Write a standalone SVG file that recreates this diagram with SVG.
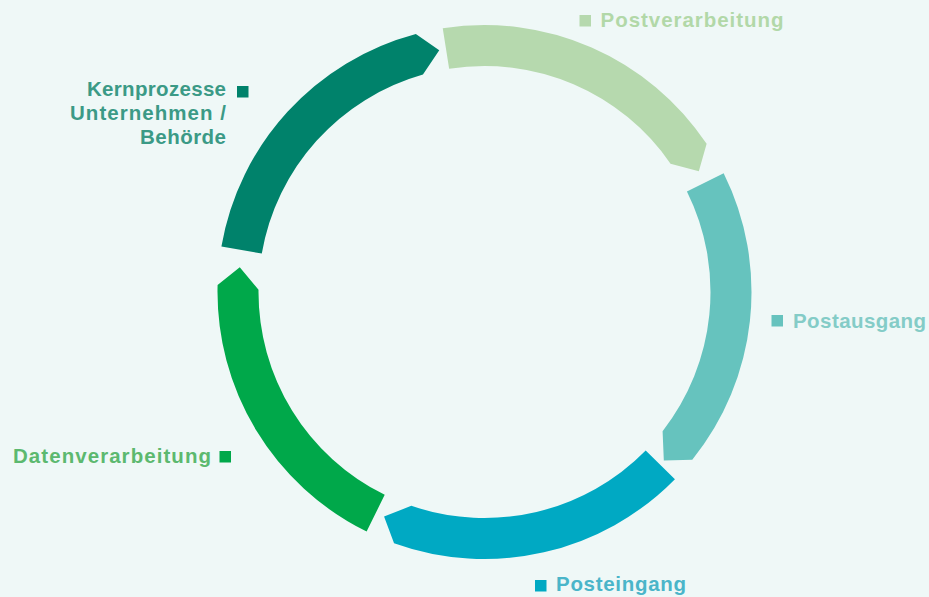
<svg xmlns="http://www.w3.org/2000/svg" xmlns:xlink="http://www.w3.org/1999/xlink" width="929" height="597" viewBox="0 0 929 597">
<style>
.lbl{font-family:"Liberation Sans","Open Sans",sans-serif;font-weight:700;font-size:20.5px}
</style>
<defs>
<path id="seg" d="M267,0 A267,267 0 0 1 111.57,242.57 L85.75,230.57 L97.66,203.81 A226,226 0 0 0 226,0 Z"/>
</defs>
<rect width="929" height="597" fill="#eff8f7"/>
<g id="connectors"></g>
<g id="kernprozesse">
<use xlink:href="#seg" href="#seg" fill="#00826b" transform="translate(484.5,292) rotate(189.8)"/>
<rect x="237" y="86" width="11.5" height="11.5" fill="#00826b"/>
<text class="lbl" fill="#3b9a86" text-anchor="end" x="226" y="96" textLength="139">Kernprozesse</text>
<text class="lbl" fill="#3b9a86" text-anchor="end" x="226" y="120" textLength="156">Unternehmen /</text>
<text class="lbl" fill="#3b9a86" text-anchor="end" x="226" y="144" textLength="86">Behörde</text>
</g>
<g id="postverarbeitung">
<use xlink:href="#seg" href="#seg" fill="#b6d9ae" transform="translate(484.5,292) rotate(261)"/>
<rect x="579.5" y="15" width="11.5" height="11.5" fill="#b6d9ae"/>
<text class="lbl" fill="#b2d8a8" x="600.5" y="27" textLength="183">Postverarbeitung</text>
</g>
<g id="postausgang">
<use xlink:href="#seg" href="#seg" fill="#66c3be" transform="translate(484.5,292) rotate(333.6)"/>
<rect x="771.5" y="315" width="11.5" height="11.5" fill="#66c3be"/>
<text class="lbl" fill="#84ccc7" x="793" y="327.5" textLength="133">Postausgang</text>
</g>
<g id="posteingang">
<use xlink:href="#seg" href="#seg" fill="#00a9c3" transform="translate(484.5,292) rotate(44.5)"/>
<rect x="535" y="580" width="11.5" height="11.5" fill="#00a9c3"/>
<text class="lbl" fill="#4ab5c9" x="556" y="591" textLength="130">Posteingang</text>
</g>
<g id="datenverarbeitung">
<use xlink:href="#seg" href="#seg" fill="#00a84a" transform="translate(484.5,292) rotate(116.2)"/>
<rect x="219.5" y="451" width="11.5" height="11.5" fill="#00a84a"/>
<text class="lbl" fill="#5cb96f" x="13" y="462.5" textLength="198">Datenverarbeitung</text>
</g>
</svg>
